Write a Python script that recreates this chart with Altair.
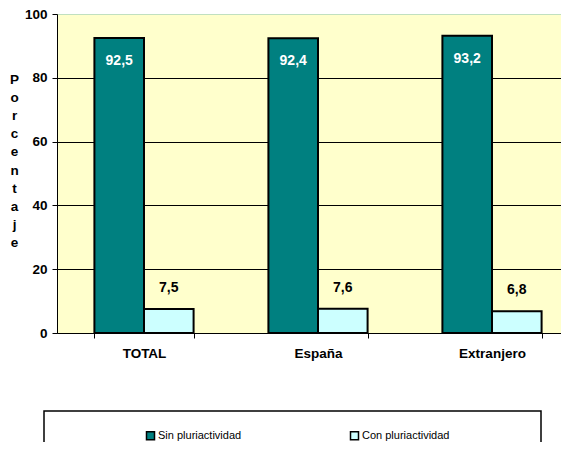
import altair as alt
import pandas as pd

categories = ["TOTAL", "España", "Extranjero"]
series = ["Sin pluriactividad", "Con pluriactividad"]
sin_values = [92.5, 92.4, 93.2]
con_values = [7.5, 7.6, 6.8]
y_ticks = [0, 20, 40, 60, 80, 100]
colors = ["#008080", "#CCFFFF"]

rows = []
for c, v in zip(categories, sin_values):
    rows.append({"cat": c, "serie": series[0], "val": v, "lab": f"{v:.1f}".replace(".", ",")})
for c, v in zip(categories, con_values):
    rows.append({"cat": c, "serie": series[1], "val": v, "lab": f"{v:.1f}".replace(".", ",")})
df = pd.DataFrame(rows)

FONT = "Liberation Sans"

x_enc = alt.X(
    "cat:N", sort=categories,
    scale=alt.Scale(paddingInner=0.43, paddingOuter=0.215, range=[0, 522]),
    axis=alt.Axis(title=None, labelAngle=0, labelFont=FONT, labelFontSize=13.5,
                  labelFontWeight="bold", labelColor="black", labelPadding=8,
                  tickBand="extent", tickSize=5, tickColor="black",
                  domainColor="black", domainWidth=1, grid=False),
)
xoff = alt.XOffset("serie:N", sort=series, scale=alt.Scale(paddingInner=0, paddingOuter=0))
y_enc = alt.Y(
    "val:Q", scale=alt.Scale(domain=[0, 100]),
    axis=alt.Axis(values=y_ticks, grid=True,
                  gridColor={"condition": {"test": "datum.value === 100", "value": "#c0e0c0"}, "value": "black"},
                  gridWidth=1, domainColor="black", tickColor="black", tickSize=5,
                  labelFont=FONT, labelFontSize=13.5, labelFontWeight="bold", labelColor="black",
                  labelPadding=5,
                  title=list("Porcentaje"), titleAngle=0, titleX=-43, titleY=58,
                  titleBaseline="top", titleAlign="center", titleLineHeight=18.2,
                  titleFont=FONT, titleFontSize=13.5, titleFontWeight="bold", titleColor="black"),
)

base = alt.Chart(df).encode(x=x_enc, xOffset=xoff)

bars = base.mark_bar(stroke="black", strokeWidth=2).encode(
    y=y_enc,
    color=alt.Color("serie:N", sort=series,
                    scale=alt.Scale(domain=series, range=colors),
                    legend=alt.Legend(orient="none", legendX=88, legendY=416,
                                      direction="horizontal", title=None,
                                      symbolType="square", symbolSize=64,
                                      symbolStrokeColor="black", symbolStrokeWidth=1.5,
                                      labelFont=FONT, labelFontSize=11, labelColor="black",
                                      labelOffset=2, columnPadding=105, padding=0)),
)

lab_sin = base.mark_text(font=FONT, fontSize=14, fontWeight="bold", color="white",
                         baseline="middle", dy=23).encode(
    y="val:Q", text="lab:N").transform_filter(alt.datum.serie == series[0])
lab_con = base.mark_text(font=FONT, fontSize=14, fontWeight="bold", color="black",
                         baseline="middle", dy=-21).encode(
    y="val:Q", text="lab:N").transform_filter(alt.datum.serie == series[1])

box = alt.Chart(alt.Data(values=[{}])).mark_rect(
    fill="transparent", stroke="black", strokeWidth=1.5).encode(
    x=alt.value(-13), x2=alt.value(484), y=alt.value(397), y2=alt.value(450))

chart = alt.layer(bars, lab_sin, lab_con, box).properties(
    width=504, height=319,
    autosize=alt.AutoSizeParams(type="none"),
    padding={"left": 49, "top": 6, "right": 0, "bottom": 109},
    background="white",
).configure_view(stroke="#c0e0c0", fill="#FFFFCC")

chart.save("out.html", embed_options={"renderer": "svg", "actions": False})
